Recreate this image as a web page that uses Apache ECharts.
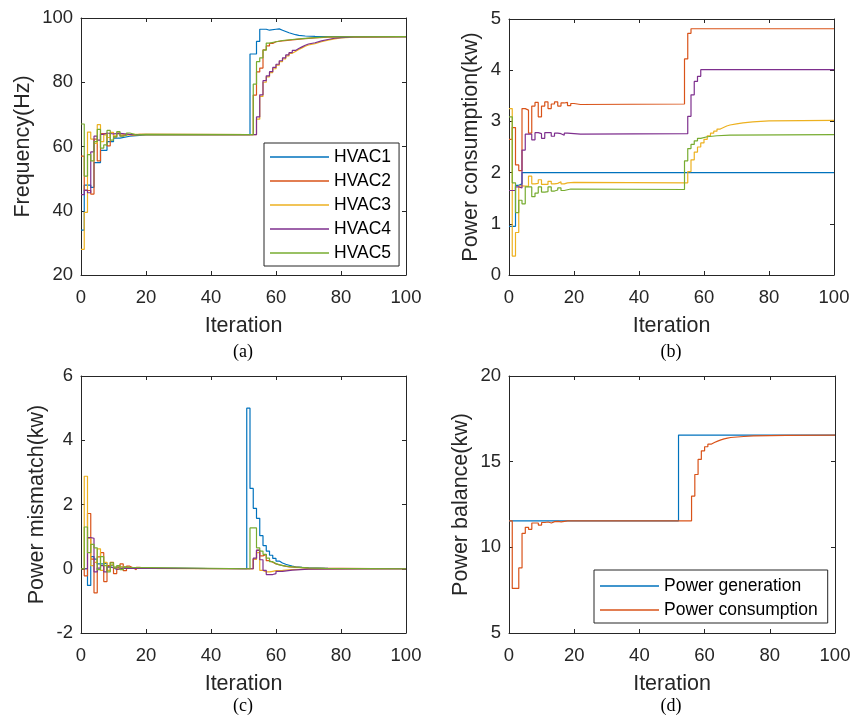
<!DOCTYPE html>
<html><head><meta charset="utf-8">
<script src="https://cdn.jsdelivr.net/npm/echarts@6/dist/echarts.min.js"></script>
<style>html,body{margin:0;padding:0;background:#fff}#c{width:854px;height:717px}</style>
</head><body><div id="c"></div>
<script>
// ---------- data ----------
const hvacNames = ['HVAC1', 'HVAC2', 'HVAC3', 'HVAC4', 'HVAC5'];
const balanceNames = ['Power generation', 'Power consumption'];
const iterationRange = [0, 100, 20];

// (a) Frequency (Hz): [iteration, value]
const freqHVAC1 = [[0,34],[1,48],[3,47.3],[4,55],[6,58.8],[8,61.5],[10,62.6],[12,63.2],[15,63.6],[20,63.7],[52,88.8],[54,92.7],[55,96.5],[57,96.2],[58,96.5],[60,96.6],[61,96.2],[62,95.8],[63,95.4],[64,95.1],[65,94.8],[66,94.6],[67,94.4],[69,94.3],[72,94.2],[100,94.2]];
const freqHVAC2 = [[0,57],[1,46.3],[3,45.2],[4,62.3],[5,55.5],[6,64],[8,60.2],[9,64.3],[10,63],[11,64.2],[12,63.3],[13,63.9],[14,63.5],[16,63.8],[18,63.7],[53,76],[54,83.2],[55,84.4],[56,90.1],[57,91.3],[58,92.1],[59,92.6],[60,92.9],[62,93.2],[65,93.5],[68,93.8],[72,94],[76,94.2],[100,94.2]];
const freqHVAC3 = [[0,28],[1,39.5],[2,64.5],[3,62.3],[4,61],[5,66.8],[6,61.5],[7,63.6],[8,62.8],[9,64.4],[10,63.3],[11,64],[12,63.5],[14,63.8],[16,63.7],[54,68.5],[55,75.6],[56,80],[57,81.7],[58,83],[59,84.2],[60,85.3],[61,86.4],[62,87.3],[63,88.2],[64,89],[65,89.6],[66,90.2],[67,90.7],[68,91.2],[69,91.6],[70,92],[72,92.6],[74,93.1],[76,93.5],[78,93.8],[80,94],[84,94.2],[100,94.2]];
const freqHVAC4 = [[0,45],[1,46.4],[2,45.6],[3,58.3],[4,63.2],[5,62],[6,63.8],[7,64.2],[8,63.9],[10,64.1],[12,63.8],[15,63.7],[54,69.2],[55,76.1],[56,80.5],[57,82],[58,83.3],[59,84.6],[60,85.6],[61,86.7],[62,87.6],[63,88.5],[64,89.2],[65,89.9],[66,90.5],[67,91],[68,91.5],[69,91.9],[70,92.3],[72,92.9],[74,93.3],[76,93.7],[78,93.9],[80,94.1],[84,94.2],[100,94.2]];
const freqHVAC5 = [[0,67],[1,50.8],[2,57.5],[3,55.5],[4,61.5],[5,65.3],[6,59.5],[7,60.5],[8,65],[9,62],[10,63],[11,64.6],[12,63.2],[13,63.5],[14,64.2],[15,63.6],[17,63.8],[20,63.7],[53,79.4],[54,86.4],[55,87.6],[56,90],[57,92.2],[58,92.6],[60,93],[62,93.3],[65,93.6],[68,93.9],[72,94.1],[76,94.2],[100,94.2]];

// (b) Power consumption (kw)
const powHVAC1 = [[0,0.95],[2,1.75],[3,1.78],[4,2.0],[100,2.0]];
const powHVAC2 = [[0,2.65],[1,2.88],[2,2.15],[3,2.04],[4,3.25],[5,3.22],[6,2.77],[7,3.3],[8,3.37],[9,3.09],[10,3.3],[11,3.38],[12,3.25],[13,3.34],[14,3.38],[15,3.3],[16,3.36],[17,3.37],[18,3.31],[19,3.35],[20,3.33],[22,3.34],[54,4.22],[55,4.72],[56,4.81],[100,4.81]];
const powHVAC3 = [[0,3.25],[1,0.37],[2,0.83],[3,1.74],[4,1.73],[6,1.93],[7,1.78],[8,1.79],[9,1.86],[10,1.77],[11,1.77],[12,1.83],[13,1.78],[14,1.79],[15,1.82],[16,1.78],[17,1.8],[18,1.81],[20,1.8],[55,2.02],[56,2.25],[57,2.4],[58,2.5],[59,2.58],[60,2.65],[61,2.72],[62,2.77],[63,2.81],[64,2.85],[65,2.88],[66,2.91],[67,2.93],[68,2.95],[70,2.97],[72,2.99],[75,3.01],[80,3.02],[100,3.02]];
const powHVAC4 = [[0,1.65],[2,1.72],[3,1.7],[4,2.44],[5,2.75],[7,2.64],[8,2.78],[9,2.76],[10,2.67],[11,2.78],[13,2.71],[14,2.77],[15,2.76],[16,2.73],[17,2.77],[18,2.76],[20,2.75],[22,2.76],[55,3.1],[56,3.52],[57,3.78],[58,3.88],[59,4.01],[100,4.01]];
const powHVAC5 = [[0,3.09],[1,1.8],[2,1.22],[3,1.46],[4,1.39],[5,1.72],[7,1.53],[8,1.6],[9,1.72],[10,1.62],[11,1.63],[12,1.72],[13,1.64],[14,1.66],[15,1.7],[16,1.65],[17,1.68],[19,1.67],[54,2.23],[55,2.47],[56,2.55],[57,2.62],[58,2.67],[59,2.7],[61,2.72],[64,2.73],[68,2.74],[100,2.74]];

// (c) Power mismatch (kw)
const misHVAC1 = [[0,0],[2,-0.52],[3,0.38],[4,0.3],[5,0.15],[7,0.18],[8,0.08],[9,0.12],[10,0.05],[12,0.07],[13,0.03],[15,0.02],[18,0],[51,5.0],[52,2.5],[53,1.88],[54,1.57],[55,1.03],[56,0.72],[57,0.55],[58,0.42],[59,0.32],[60,0.24],[61,0.18],[62,0.14],[63,0.11],[64,0.08],[65,0.06],[66,0.05],[67,0.04],[68,0.03],[70,0.02],[73,0.01],[76,0],[100,0]];
const misHVAC2 = [[0,0],[1,-0.22],[2,1.72],[3,0.3],[4,-0.75],[5,0.37],[6,0.5],[7,-0.4],[8,0.1],[9,0.2],[10,-0.15],[11,0.05],[12,0.15],[13,-0.06],[14,0.08],[15,0.03],[16,-0.03],[17,0.04],[18,0.01],[20,0],[53,0.3],[54,0.57],[55,0.4],[56,0.45],[57,0.25],[58,0.2],[59,0.15],[60,0.1],[62,0.06],[64,0.04],[67,0.02],[70,0],[100,0]];
const misHVAC3 = [[0,0],[1,2.88],[2,0.95],[3,0.1],[4,0.2],[5,0.62],[6,-0.05],[7,0.2],[8,-0.05],[9,0.12],[10,0.05],[11,-0.02],[12,0.06],[13,0.02],[15,0.01],[18,0],[53,0.3],[54,0.5],[55,-0.05],[56,-0.1],[57,-0.1],[58,-0.08],[59,-0.06],[60,-0.05],[62,-0.03],[65,-0.01],[70,0],[100,0]];
const misHVAC4 = [[0,0],[2,0.97],[3,0.95],[4,-0.1],[5,0.02],[6,0.1],[7,-0.1],[8,0.05],[9,0.03],[10,-0.02],[11,0.02],[13,0],[53,0.33],[54,0.58],[55,0.28],[56,-0.05],[57,-0.18],[59,-0.15],[60,-0.08],[62,-0.04],[65,-0.01],[70,0],[100,0]];
const misHVAC5 = [[0,0],[1,1.3],[2,0.5],[3,0.76],[4,0.65],[5,-0.03],[6,0.38],[7,0.1],[8,-0.1],[9,0.18],[10,0.03],[11,0.1],[12,-0.03],[13,0.05],[14,0.04],[15,0],[52,1.27],[54,0.65],[55,0.55],[56,0.45],[57,0.33],[58,0.22],[59,0.16],[60,0.12],[61,0.08],[63,0.05],[66,0.03],[70,0.01],[75,0],[100,0]];

// (d) Power balance (kw)
const balGeneration = [[0,11.55],[52,16.55],[100,16.55]];
const balConsumption = [[0,11.55],[1,7.6],[3,8.8],[4,10.82],[5,11.17],[6,11.05],[7,11.42],[8,11.42],[9,11.3],[10,11.45],[11,11.48],[12,11.42],[13,11.5],[14,11.52],[15,11.49],[16,11.54],[18,11.55],[56,12.99],[57,14.25],[58,15.13],[59,15.63],[60,15.87],[61,16.02],[62,16.12],[63,16.2],[64,16.27],[65,16.33],[66,16.37],[67,16.41],[68,16.44],[70,16.47],[72,16.5],[75,16.52],[80,16.54],[85,16.55],[100,16.55]];

// ---------- styling / layout ----------
const colors = ['#0072BD', '#D95319', '#EDB120', '#7E2F8E', '#77AC30'];
const FONT = '"Liberation Sans", Arial, Helvetica, sans-serif';
const SERIF = '"Liberation Serif", "Times New Roman", serif';
const AX = '#262626';

const panels = [
  { grid: {left: 81, top: 18, width: 325, height: 257}, y: [20, 100, 20], yName: 'Frequency(Hz)', yGap: 47,
    series: [freqHVAC1, freqHVAC2, freqHVAC3, freqHVAC4, freqHVAC5], names: hvacNames, label: '(a)', lx: 243, ly: 352 },
  { grid: {left: 509, top: 19, width: 325, height: 256}, y: [0, 5, 1], yName: 'Power consumption(kw)', yGap: 27,
    series: [powHVAC1, powHVAC2, powHVAC3, powHVAC4, powHVAC5], names: hvacNames, label: '(b)', lx: 671, ly: 352 },
  { grid: {left: 81, top: 376, width: 325, height: 257}, y: [-2, 6, 2], yName: 'Power mismatch(kw)', yGap: 33,
    series: [misHVAC1, misHVAC2, misHVAC3, misHVAC4, misHVAC5], names: hvacNames, label: '(c)', lx: 243, ly: 706 },
  { grid: {left: 509, top: 376, width: 326, height: 257}, y: [5, 20, 5], yName: 'Power balance(kw)', yGap: 37,
    series: [balGeneration, balConsumption], names: balanceNames, label: '(d)', lx: 671, ly: 706 }
];

const grids = [], xAxes = [], yAxes = [], series = [], graphics = [];
const lineAx = {show: true, onZero: false, lineStyle: {color: AX, width: 1}};
const tickAx = {show: true, inside: true, length: 4, lineStyle: {color: AX, width: 1}};

panels.forEach((p, g) => {
  grids.push(Object.assign({outerBoundsMode: 'none', containLabel: false}, p.grid));
  const xBase = {gridIndex: g, type: 'value', min: iterationRange[0], max: iterationRange[1], interval: iterationRange[2],
    splitLine: {show: false}, axisLine: lineAx, axisTick: tickAx};
  xAxes.push(Object.assign({}, xBase, {position: 'bottom', name: 'Iteration', nameLocation: 'middle', nameGap: 40,
    nameTextStyle: {fontSize: 21.5, color: AX, fontFamily: FONT},
    axisLabel: {fontSize: 18.5, color: AX, margin: 13, fontFamily: FONT}}));
  xAxes.push(Object.assign({}, xBase, {position: 'top', axisLabel: {show: false}}));
  const yBase = {gridIndex: g, type: 'value', min: p.y[0], max: p.y[1], interval: p.y[2],
    splitLine: {show: false}, axisLine: lineAx, axisTick: tickAx};
  yAxes.push(Object.assign({}, yBase, {position: 'left', name: p.yName, nameLocation: 'middle', nameGap: p.yGap,
    nameTextStyle: {fontSize: 21.5, color: AX, fontFamily: FONT},
    axisLabel: {fontSize: 18.5, color: AX, margin: 8, fontFamily: FONT}}));
  yAxes.push(Object.assign({}, yBase, {position: 'right', axisLabel: {show: false}}));
  p.series.forEach((d, i) => {
    series.push({type: 'line', name: p.names[i], xAxisIndex: 2 * g, yAxisIndex: 2 * g, step: 'end',
      data: d, symbol: 'none', showSymbol: false, animation: false, silent: true,
      lineStyle: {color: colors[i], width: 1.2}, itemStyle: {color: colors[i]}});
  });
  graphics.push({type: 'text', x: p.lx, y: p.ly,
    style: {text: p.label, font: '18px ' + SERIF, fill: '#000', textAlign: 'center', textVerticalAlign: 'middle'}});
});

const legendCommon = {orient: 'vertical', backgroundColor: '#fff', borderColor: AX, borderWidth: 1, borderRadius: 0,
  icon: 'rect', itemWidth: 59, itemHeight: 1.5, itemGap: 6, selectedMode: false,
  textStyle: {fontSize: 17.5, color: '#000', fontFamily: FONT, lineHeight: 18}};

const option = {
  backgroundColor: '#fff',
  animation: false,
  grid: grids,
  xAxis: xAxes,
  yAxis: yAxes,
  legend: [
    Object.assign({}, legendCommon, {data: hvacNames, left: 264, top: 143, padding: [5, 8, 4, 6]}),
    Object.assign({}, legendCommon, {data: balanceNames, left: 594, top: 570, padding: [7, 10, 4, 6]})
  ],
  graphic: graphics,
  series: series
};

const chart = echarts.init(document.getElementById('c'), null, {renderer: 'canvas'});
chart.setOption(option);
</script>
</body></html>
